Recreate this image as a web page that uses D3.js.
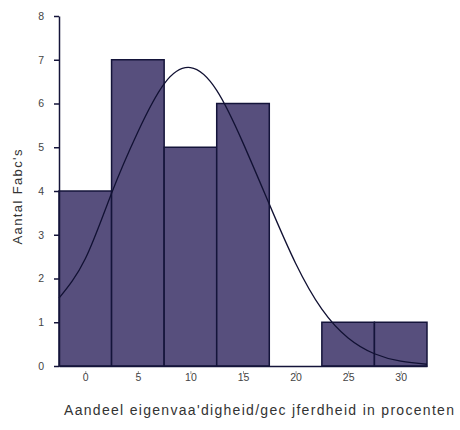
<!DOCTYPE html>
<html>
<head>
<meta charset="utf-8">
<script src="https://cdn.jsdelivr.net/npm/d3@7"></script>
<style>
  body { margin: 0; background: #fff; }
  text { font-family: "Liberation Sans", Arial, sans-serif; }
</style>
</head>
<body>
<div id="chart"></div>
<script>
// bin centres (percent) and counts
var binCenters = [0, 5, 10, 15, 20, 25, 30];
var counts = [4, 7, 5, 6, 0, 1, 1];
// fitted normal curve
var curveX = [-2.5, 0, 2.5, 5, 7.5, 10, 12.5, 15, 17.5, 20, 22.5, 25, 27.5, 30, 32.5];
var curveY = [1.55, 2.45, 3.95, 5.35, 6.45, 6.82, 6.3, 5.1, 3.7, 2.35, 1.3, 0.64, 0.28, 0.11, 0.04];
var yTicks = [0, 1, 2, 3, 4, 5, 6, 7, 8];
var xTicks = [0, 5, 10, 15, 20, 25, 30];

var svgWidth = 460;
var svgHeight = 430;
var binWidth = 5;

var svg = d3.select("#chart")
  .append("svg")
  .attr("width", svgWidth)
  .attr("height", svgHeight);

var xScale = d3.scaleLinear()
  .domain([-2.5, 32.5])
  .range([59, 427]);

var yScale = d3.scaleLinear()
  .domain([0, 8])
  .range([366, 16]);

// bars
svg.append("g")
  .selectAll("rect")
  .data(counts)
  .enter()
  .append("rect")
  .attr("x", (d, i) => xScale(binCenters[i] - binWidth / 2))
  .attr("y", d => yScale(d))
  .attr("width", (d, i) => xScale(binCenters[i] + binWidth / 2) - xScale(binCenters[i] - binWidth / 2))
  .attr("height", d => yScale(0) - yScale(d))
  .attr("fill", "#574f7d")
  .attr("stroke", "#14143a")
  .attr("stroke-width", 1.5);

// normal curve
var line = d3.line()
  .x((d, i) => xScale(curveX[i]))
  .y(d => yScale(d))
  .curve(d3.curveNatural);

svg.append("path")
  .datum(curveY)
  .attr("d", line)
  .attr("fill", "none")
  .attr("stroke", "#111133")
  .attr("stroke-width", 1.3);

// axes
var yAxis = d3.axisLeft(yScale).tickValues(yTicks).tickSize(5).tickSizeOuter(0).tickPadding(10);
var gy = svg.append("g")
  .attr("transform", "translate(59,0)")
  .call(yAxis);
gy.select(".domain").attr("stroke", "#14143a").attr("stroke-width", 1.5);
gy.selectAll(".tick line").attr("stroke", "#14143a").attr("stroke-width", 1.5);
gy.selectAll(".tick text").attr("fill", "#444").attr("font-size", 10.5)
  .attr("font-family", "Liberation Sans, Arial, sans-serif");

var xAxis = d3.axisBottom(xScale).tickValues(xTicks).tickSize(3).tickSizeOuter(0).tickPadding(5);
var gx = svg.append("g")
  .attr("transform", "translate(0,366)")
  .call(xAxis);
gx.select(".domain").attr("stroke", "#14143a").attr("stroke-width", 1.5);
gx.selectAll(".tick line").attr("stroke", "#999").attr("transform", "translate(0,5)");
gx.selectAll(".tick text").attr("fill", "#444").attr("font-size", 10.5)
  .attr("font-family", "Liberation Sans, Arial, sans-serif");

// axis labels
svg.append("text")
  .attr("transform", "translate(22,197) rotate(-90)")
  .attr("text-anchor", "middle")
  .attr("font-size", 13)
  .attr("fill", "#333")
  .attr("textLength", 95)
  .attr("lengthAdjust", "spacing")
  .text("Aantal Fabc's");

svg.append("text")
  .attr("x", 259)
  .attr("y", 415)
  .attr("text-anchor", "middle")
  .attr("font-size", 14)
  .attr("fill", "#333")
  .attr("textLength", 390)
  .attr("lengthAdjust", "spacing")
  .text("Aandeel eigenvaa'digheid/gec jferdheid in procenten");
</script>
</body>
</html>
